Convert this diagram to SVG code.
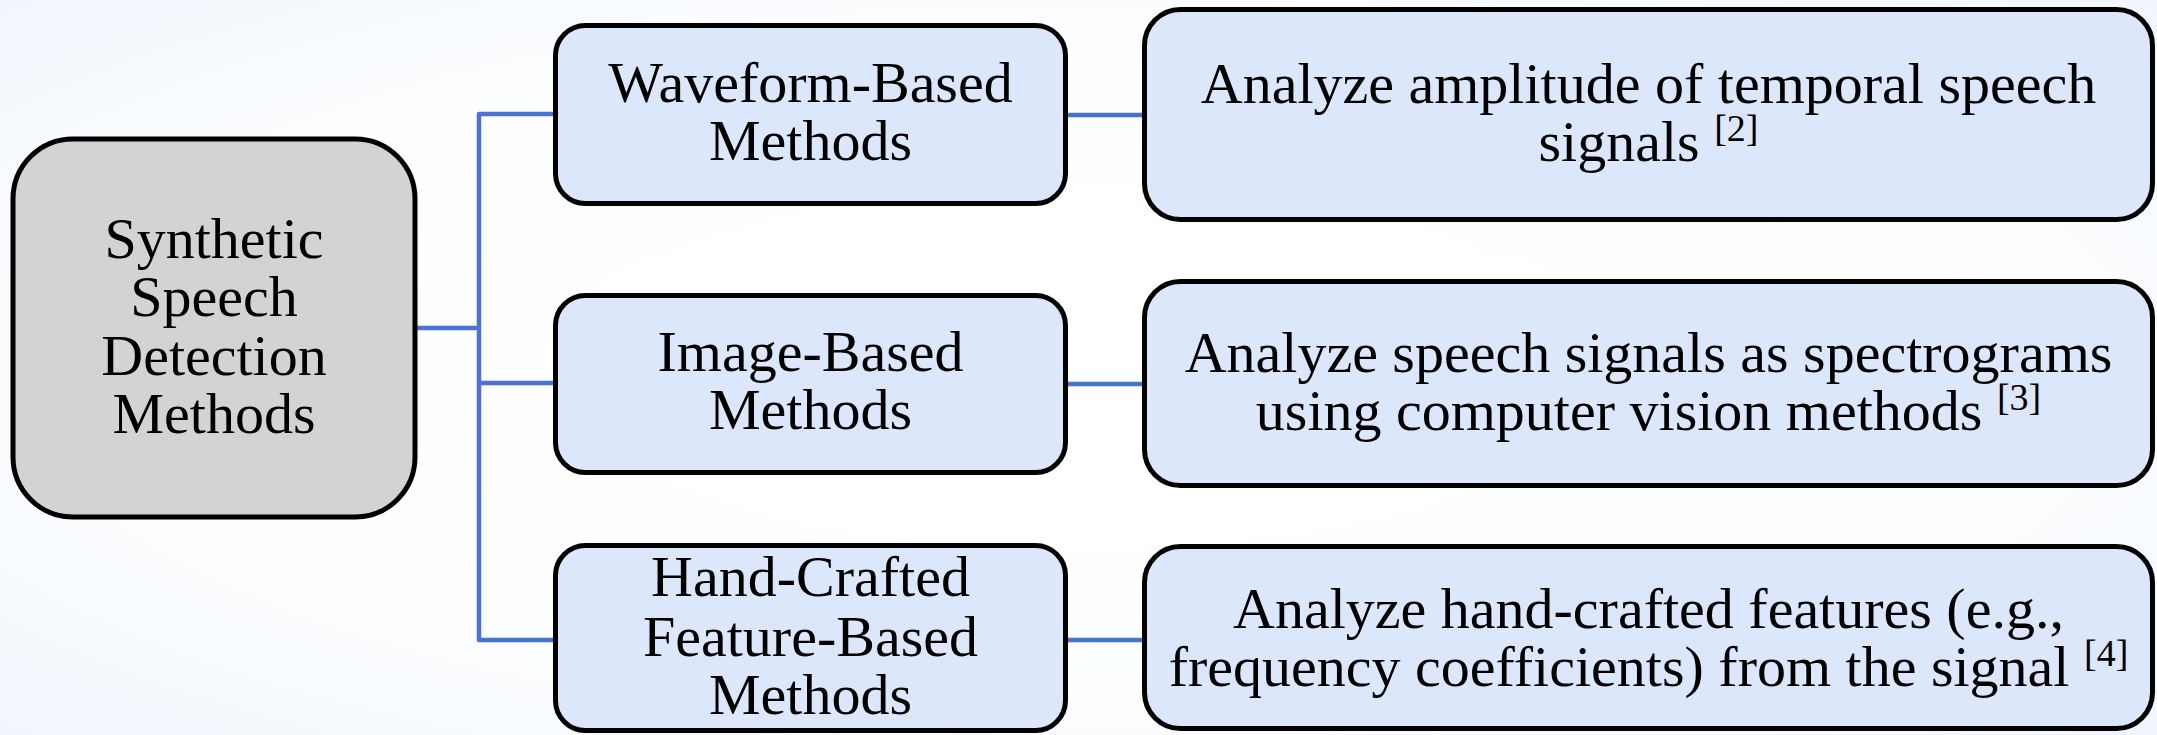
<svg xmlns="http://www.w3.org/2000/svg" width="2157" height="735" viewBox="0 0 2157 735">
  <defs>
    <radialGradient id="bg" cx="50%" cy="50%" r="75%">
      <stop offset="0" stop-color="#ffffff"/>
      <stop offset="0.6" stop-color="#fdfeff"/>
      <stop offset="1" stop-color="#eef5fd"/>
    </radialGradient>
  </defs>
  <style>
    .root { fill: #d3d3d3; stroke: #000; stroke-width: 5; }
    .box { fill: #dde7fc; stroke: #000; stroke-width: 5; }
    .conn { fill: none; stroke: #4a72d2; stroke-width: 4.5; stroke-linejoin: round; }
    .t { font-family: 'Liberation Serif', 'Times New Roman', 'DejaVu Serif', serif; font-size: 58px; fill: #000; text-anchor: middle; }
    .sup { font-size: 38px; }
  </style>
  <rect x="0" y="0" width="2157" height="735" fill="url(#bg)"/>

  <g id="connectors">
    <path class="conn" d="M415,328 H479"/>
    <path class="conn" d="M556,114 H479 V640 H556"/>
    <path class="conn" d="M479,383 H556"/>
    <path class="conn" d="M1065,115 H1145"/>
    <path class="conn" d="M1065,384 H1145"/>
    <path class="conn" d="M1065,640 H1145"/>
  </g>

  <g id="root" font-family="Liberation Serif, serif">
    <rect class="root" x="13" y="139" width="402" height="378" rx="60" ry="60"/>
    <text class="t" x="214" y="258">Synthetic</text>
    <text class="t" x="214" y="316">Speech</text>
    <text class="t" x="214" y="375">Detection</text>
    <text class="t" x="214" y="433">Methods</text>
  </g>

  <g id="waveform">
    <rect class="box" x="555.5" y="25.5" width="510" height="178" rx="30" ry="30"/>
    <text class="t" x="810.5" y="102">Waveform-Based</text>
    <text class="t" x="810.5" y="160">Methods</text>
  </g>

  <g id="image">
    <rect class="box" x="555.5" y="295.5" width="510" height="177" rx="30" ry="30"/>
    <text class="t" x="810.5" y="371">Image-Based</text>
    <text class="t" x="810.5" y="429">Methods</text>
  </g>

  <g id="handcrafted">
    <rect class="box" x="555.5" y="545.5" width="510" height="185" rx="30" ry="30"/>
    <text class="t" x="810.5" y="596">Hand-Crafted</text>
    <text class="t" x="810.5" y="656">Feature-Based</text>
    <text class="t" x="810.5" y="714">Methods</text>
  </g>

  <g id="desc-waveform">
    <rect class="box" x="1144.5" y="9.5" width="1008" height="210" rx="36" ry="36"/>
    <text class="t" x="1648.5" y="103">Analyze amplitude of temporal speech</text>
    <text class="t" x="1648.5" y="161">signals <tspan class="sup" dy="-20">[2]</tspan></text>
  </g>

  <g id="desc-image">
    <rect class="box" x="1144.5" y="281.5" width="1008" height="204" rx="36" ry="36"/>
    <text class="t" x="1648.5" y="372">Analyze speech signals as spectrograms</text>
    <text class="t" x="1648.5" y="430">using computer vision methods <tspan class="sup" dy="-20">[3]</tspan></text>
  </g>

  <g id="desc-handcrafted">
    <rect class="box" x="1144.5" y="546.5" width="1008" height="182" rx="36" ry="36"/>
    <text class="t" x="1648.5" y="628">Analyze hand-crafted features (e.g.,</text>
    <text class="t" x="1648.5" y="686">frequency coefficients) from the signal <tspan class="sup" dy="-20">[4]</tspan></text>
  </g>
</svg>
